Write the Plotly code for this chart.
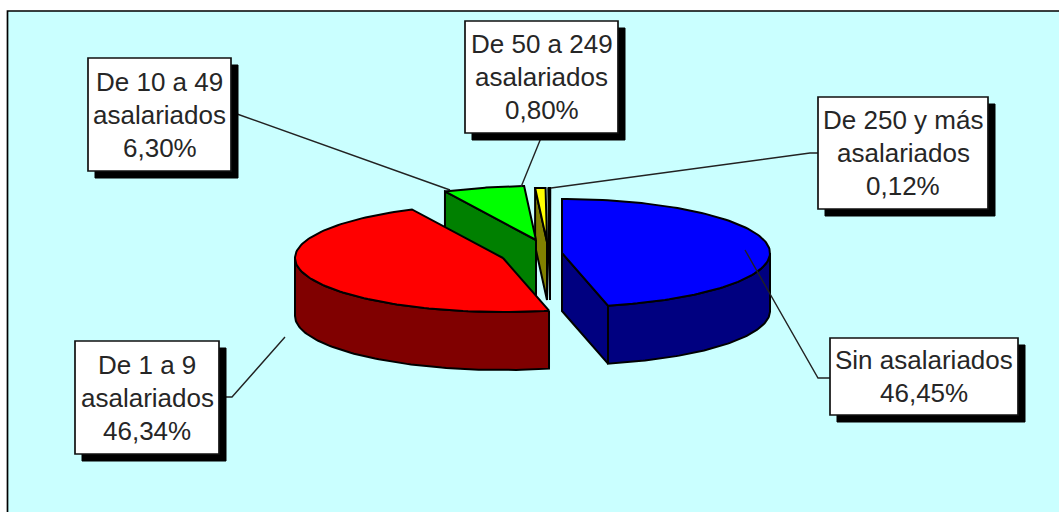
import numpy as np
import plotly.graph_objects as go

# ---- data ----
categories = ["Sin asalariados", "De 1 a 9 asalariados", "De 10 a 49 asalariados",
              "De 50 a 249 asalariados", "De 250 y más asalariados"]
values = [46.45, 46.34, 6.30, 0.80, 0.12]
value_labels = ["46,45%", "46,34%", "6,30%", "0,80%", "0,12%"]
label_lines = [["Sin asalariados"], ["De 1 a 9", "asalariados"], ["De 10 a 49", "asalariados"],
               ["De 50 a 249", "asalariados"], ["De 250 y más", "asalariados"]]

# ---- styles / layout ----
top_colors = ["#0000FF", "#FF0000", "#00FF00", "#FFFF00", "#808080"]
wall_colors = ["#000080", "#800000", "#008000", "#808000", "#303030"]
apex_x = [562, 503, 536, 547, 550]
apex_y = [253, 258, 240, 242, 242]
RX, RY, DEPTH = 208, 54, 58
draw_order = [4, 3, 2, 1, 0]
BG = "#CAFFFF"
boxes = [(830, 338, 1018, 415), (75, 341, 219, 454), (88, 58, 231, 171),
         (465, 21, 618, 133), (818, 97, 988, 209)]
leaders = [[(745, 250), (818, 378), (830, 378)],
           [(285, 337), (232, 397), (219, 397)],
           [(450, 190), (237, 114), (231, 112)],
           [(521, 187), (543, 133)],
           [(551, 188), (810, 153), (818, 153)]]
LINE_H = 33


def project(i, deg, drop=0.0):
    t = np.radians(np.asarray(deg, dtype=float))
    return apex_x[i] + RX * np.sin(t), apex_y[i] - RY * np.cos(t) + drop


def poly(x, y, fill):
    return go.Scatter(x=np.r_[x, x[0]], y=np.r_[y, y[0]], mode="lines", fill="toself",
                      fillcolor=fill, line=dict(color="black", width=2),
                      hoverinfo="skip", showlegend=False)


fig = go.Figure()
edges = np.r_[0, np.cumsum(values)] / 100 * 360

for i in draw_order:
    a0, a1 = edges[i], edges[i + 1]
    ax, ay = apex_x[i], apex_y[i]
    # cut faces visible to the viewer
    for ang, vis in ((a0, np.sin(np.radians(a0)) < -1e-9), (a1, np.sin(np.radians(a1)) > 1e-9)):
        if vis:
            ex, ey = project(i, ang)
            fig.add_trace(poly(np.array([ax, ex, ex, ax]),
                               np.array([ay, ey, ey + DEPTH, ay + DEPTH]), wall_colors[i]))
    # outer curved wall (front half of the ellipse)
    w0, w1 = max(a0, 90), min(a1, 270)
    if w1 > w0:
        th = np.linspace(w0, w1, 80)
        x, y = project(i, th)
        xb, yb = project(i, th[::-1], DEPTH)
        fig.add_trace(poly(np.r_[x, xb], np.r_[y, yb], wall_colors[i]))
    # top face
    th = np.linspace(a0, a1, 120)
    x, y = project(i, th)
    fig.add_trace(poly(np.r_[ax, x], np.r_[ay, y], top_colors[i]))

shapes = [dict(type="rect", x0=7.5, y0=11, x1=1075, y1=530, fillcolor=BG,
               line=dict(color="black", width=1.7), layer="below")]
for pts in leaders:
    d = "M " + " L ".join(f"{px} {py}" for px, py in pts)
    shapes.append(dict(type="path", path=d, line=dict(color="#222222", width=1.4), layer="above"))
for (x0, y0, x1, y1) in boxes:
    shapes.append(dict(type="rect", x0=x0 + 7, y0=y0 + 7, x1=x1 + 7, y1=y1 + 7,
                       fillcolor="black", line=dict(color="black", width=1), layer="above"))
    shapes.append(dict(type="rect", x0=x0, y0=y0, x1=x1, y1=y1, fillcolor="white",
                       line=dict(color="#111111", width=1.7), layer="above"))

annotations = []
for b, t, v in zip(boxes, label_lines, value_labels):
    rows = t + [v]
    cy = (b[1] + b[3]) / 2
    for k, row in enumerate(rows):
        annotations.append(dict(x=(b[0] + b[2]) / 2, y=cy + (k - (len(rows) - 1) / 2) * LINE_H,
                                xref="x", yref="y", text=row, showarrow=False,
                                xanchor="center", yanchor="middle", align="center",
                                font=dict(family="Liberation Sans", size=26, color="#262626")))

fig.update_layout(width=1059, height=512, margin=dict(l=0, r=0, t=0, b=0), autosize=False,
                  paper_bgcolor="white", plot_bgcolor="rgba(0,0,0,0)", showlegend=False,
                  hovermode=False, shapes=shapes, annotations=annotations,
                  xaxis=dict(range=[0, 1059], visible=False, fixedrange=True),
                  yaxis=dict(range=[512, 0], visible=False, fixedrange=True))

fig.write_html("out.html", config={"displayModeBar": False},
               post_script="document.body.style.margin='0';document.body.style.overflow='hidden';")
